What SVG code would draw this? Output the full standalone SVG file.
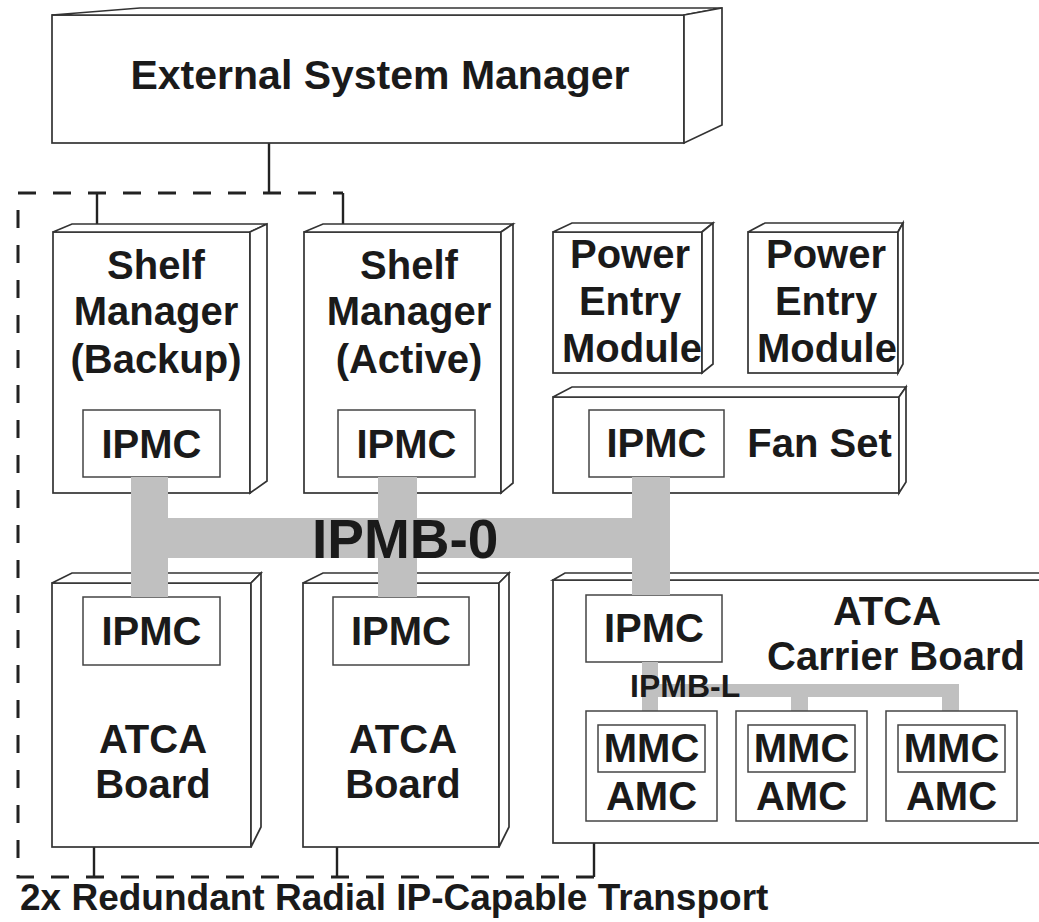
<svg xmlns="http://www.w3.org/2000/svg" width="1039" height="922" viewBox="0 0 1039 922">
<style>
.box{fill:#fff;stroke:#333;stroke-width:1.7;stroke-linejoin:miter}
.in{fill:#fff;stroke:#444;stroke-width:1.5}
.bus{fill:#c0c0c0}
.ln{stroke:#222;stroke-width:2.4;fill:none}
.dash{stroke:#222;stroke-width:3;fill:none;stroke-dasharray:18 17}
.t{font-family:"Liberation Sans",Arial,Helvetica,sans-serif;font-weight:bold;fill:#1a1a1a;text-anchor:middle;font-size:40px}
</style>
<rect width="1039" height="922" fill="#fff"/>

<g id="connectors">
<path class="dash" d="M594,877 H18 V193 H343"/>
<path class="ln" d="M269,143 V193 M97,193 V225 M343,193 V225 M94,847 V877 M337,847 V877 M594,843 V877"/>
</g>

<g id="esm">
<rect class="box" x="52" y="15" width="632" height="128"/>
<polygon class="box" points="52,15 140,8 722,8 684,15"/>
<polygon class="box" points="684,15 722,8 722,125 684,143"/>
<text class="t" x="380" y="89" style="font-size:41px">External System Manager</text>
</g>

<g id="shelf-backup">
<rect class="box" x="53" y="232" width="197" height="261"/>
<polygon class="box" points="53,232 72,224 267,224 250,232"/>
<polygon class="box" points="250,232 267,224 267,481 250,493"/>
<text class="t" x="156" y="279">Shelf</text>
<text class="t" x="156" y="325">Manager</text>
<text class="t" x="156" y="373">(Backup)</text>
<rect class="in" x="83" y="410" width="137" height="67"/>
<text class="t" x="151.5" y="458">IPMC</text>
</g>

<g id="shelf-active">
<rect class="box" x="304" y="232" width="197" height="261"/>
<polygon class="box" points="304,232 323,224 513,224 501,232"/>
<polygon class="box" points="501,232 513,224 513,483 501,493"/>
<text class="t" x="409" y="279">Shelf</text>
<text class="t" x="409" y="325">Manager</text>
<text class="t" x="409" y="373">(Active)</text>
<rect class="in" x="338" y="410" width="137" height="67"/>
<text class="t" x="406.5" y="458">IPMC</text>
</g>

<g id="pem1">
<rect class="box" x="553" y="232" width="149" height="141"/>
<polygon class="box" points="553,232 572,223 713,223 702,232"/>
<polygon class="box" points="702,232 713,223 713,364 702,373"/>
<text class="t" x="630" y="268">Power</text>
<text class="t" x="630" y="315">Entry</text>
<text class="t" x="632" y="362">Module</text>
</g>

<g id="pem2">
<rect class="box" x="748" y="232" width="150" height="141"/>
<polygon class="box" points="748,232 765,223 903,223 898,232"/>
<polygon class="box" points="898,232 903,223 903,364 898,373"/>
<text class="t" x="826" y="268">Power</text>
<text class="t" x="826" y="315">Entry</text>
<text class="t" x="827" y="362">Module</text>
</g>

<g id="fan-set">
<rect class="box" x="553" y="397" width="346" height="96"/>
<polygon class="box" points="553,397 572,387 906,387 899,397"/>
<polygon class="box" points="899,397 906,387 906,482 899,493"/>
<rect class="in" x="589" y="410" width="135" height="67"/>
<text class="t" x="656.5" y="457">IPMC</text>
<text class="t" x="819.5" y="457">Fan Set</text>
</g>

<g id="atca-board-1">
<rect class="box" x="52" y="583" width="199" height="264"/>
<polygon class="box" points="52,583 72,573 261,573 251,583"/>
<polygon class="box" points="251,583 261,573 261,827 251,847"/>
<rect class="in" x="83" y="597" width="137" height="68"/>
<text class="t" x="151.5" y="645">IPMC</text>
<text class="t" x="153" y="753">ATCA</text>
<text class="t" x="153" y="798">Board</text>
</g>

<g id="atca-board-2">
<rect class="box" x="303" y="583" width="196" height="264"/>
<polygon class="box" points="303,583 323,573 509,573 499,583"/>
<polygon class="box" points="499,583 509,573 509,827 499,847"/>
<rect class="in" x="333" y="597" width="136" height="68"/>
<text class="t" x="401" y="645">IPMC</text>
<text class="t" x="403" y="753">ATCA</text>
<text class="t" x="403" y="798">Board</text>
</g>

<g id="carrier-board">
<rect class="box" x="553" y="580" width="500" height="263"/>
<polygon class="box" points="553,580 565,573 1053,573 1053,580"/>
<rect class="in" x="586" y="595" width="136" height="67"/>
<text class="t" x="654" y="642">IPMC</text>
<text class="t" x="887" y="625">ATCA</text>
<text class="t" x="896" y="670">Carrier Board</text>
</g>

<g id="ipmb-0">
<rect class="bus" x="131" y="518" width="539" height="40"/>
<rect class="bus" x="131" y="477" width="37" height="120"/>
<rect class="bus" x="378" y="477" width="39" height="120"/>
<rect class="bus" x="632" y="477" width="38" height="118"/>
<text class="t" x="312" y="558" style="text-anchor:start;font-size:55px">IPMB-0</text>
</g>

<g id="ipmb-l">
<rect class="bus" x="642" y="684" width="317" height="13"/>
<rect class="bus" x="642" y="662" width="16" height="49"/>
<rect class="bus" x="791" y="684" width="17" height="27"/>
<rect class="bus" x="942" y="684" width="17" height="27"/>
<text class="t" x="630" y="697" style="text-anchor:start;font-size:32px">IPMB-L</text>
</g>

<g id="amc-1">
<rect class="in" x="586" y="711" width="131" height="110"/>
<rect class="in" x="598" y="725" width="107" height="47"/>
<text class="t" x="651.5" y="762">MMC</text>
<text class="t" x="651.5" y="810">AMC</text>
</g>

<g id="amc-2">
<rect class="in" x="736" y="711" width="131" height="110"/>
<rect class="in" x="748" y="725" width="107" height="47"/>
<text class="t" x="801.5" y="762">MMC</text>
<text class="t" x="801.5" y="810">AMC</text>
</g>

<g id="amc-3">
<rect class="in" x="886" y="711" width="131" height="110"/>
<rect class="in" x="898" y="725" width="107" height="47"/>
<text class="t" x="951.5" y="762">MMC</text>
<text class="t" x="951.5" y="810">AMC</text>
</g>

<text id="caption" class="t" x="20" y="910" style="text-anchor:start;font-size:37px">2x Redundant Radial IP-Capable Transport</text>
</svg>
